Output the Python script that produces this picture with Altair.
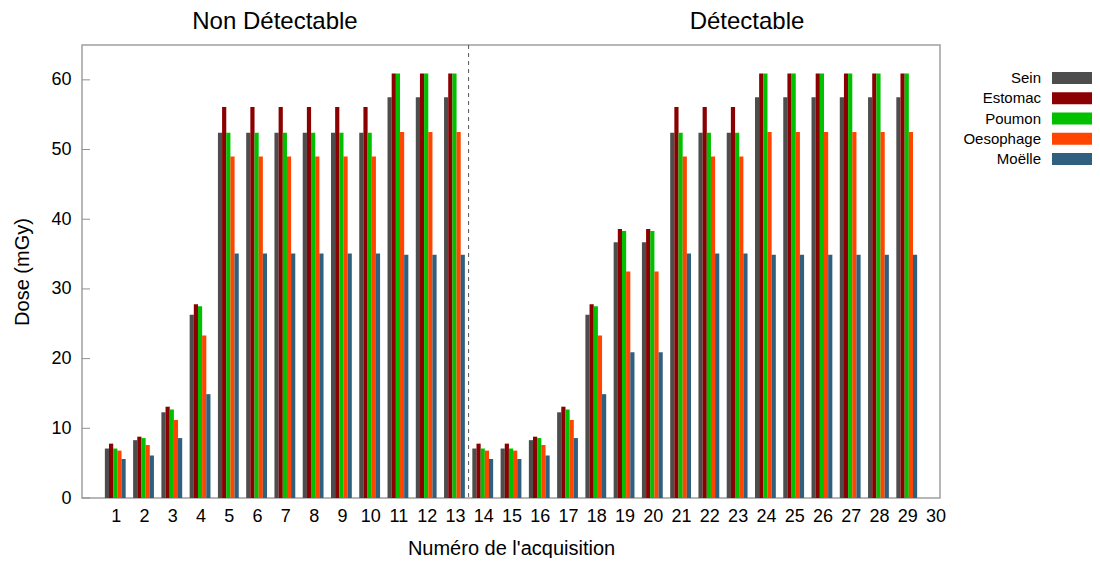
import altair as alt
import pandas as pd

acquisitions = list(range(1, 30))
series_names = ["Sein", "Estomac", "Poumon", "Oesophage", "Moëlle"]
series_colors = ["#4d4d4d", "#8b0000", "#00c000", "#ff4500", "#306080"]

sein = [7.1, 8.3, 12.3, 26.3, 52.4, 52.4, 52.4, 52.4, 52.4, 52.4, 57.5, 57.5, 57.5,
        7.1, 7.1, 8.3, 12.3, 26.3, 36.7, 36.7, 52.4, 52.4, 52.4, 57.5, 57.5, 57.5, 57.5, 57.5, 57.5]
estomac = [7.8, 8.8, 13.1, 27.8, 56.1, 56.1, 56.1, 56.1, 56.1, 56.1, 60.9, 60.9, 60.9,
           7.8, 7.8, 8.8, 13.1, 27.8, 38.6, 38.6, 56.1, 56.1, 56.1, 60.9, 60.9, 60.9, 60.9, 60.9, 60.9]
poumon = [7.1, 8.6, 12.7, 27.5, 52.4, 52.4, 52.4, 52.4, 52.4, 52.4, 60.9, 60.9, 60.9,
          7.1, 7.1, 8.6, 12.7, 27.5, 38.3, 38.3, 52.4, 52.4, 52.4, 60.9, 60.9, 60.9, 60.9, 60.9, 60.9]
oesophage = [6.8, 7.6, 11.2, 23.3, 49.0, 49.0, 49.0, 49.0, 49.0, 49.0, 52.5, 52.5, 52.5,
             6.8, 6.8, 7.6, 11.2, 23.3, 32.5, 32.5, 49.0, 49.0, 49.0, 52.5, 52.5, 52.5, 52.5, 52.5, 52.5]
moelle = [5.6, 6.1, 8.6, 14.9, 35.1, 35.1, 35.1, 35.1, 35.1, 35.1, 34.9, 34.9, 34.9,
          5.6, 5.6, 6.1, 8.6, 14.9, 20.9, 20.9, 35.1, 35.1, 35.1, 34.9, 34.9, 34.9, 34.9, 34.9, 34.9]

x_ticks = list(range(1, 31))
y_ticks = [0, 10, 20, 30, 40, 50, 60]
separator = [13.5]
panel_titles = ["Non Détectable", "Détectable"]

FONT = "Liberation Sans"

rows = []
for k, (name, vals) in enumerate(zip(series_names, [sein, estomac, poumon, oesophage, moelle])):
    for a, v in zip(acquisitions, vals):
        rows.append({"acq": a, "serie": name, "k": k, "dose": v})
df = pd.DataFrame(rows)

xscale = alt.Scale(domain=[0, 30], nice=False, zero=False)
yscale = alt.Scale(domain=[0, 65], nice=False)
color = alt.Color("serie:N", scale=alt.Scale(domain=series_names, range=series_colors), legend=None)

x_axis = alt.Axis(values=x_ticks, title="Numéro de l'acquisition", domain=False,
                  ticks=False, tickSize=0, grid=False, labelFontSize=18, labelColor="black",
                  labelFont=FONT, labelPadding=9, labelOffset=0.5, labelFlush=False,
                  labelOverlap=False, labelBound=False, format="d",
                  titleFontSize=20, titleFont=FONT, titleFontWeight="normal",
                  titleColor="black", titlePadding=13)
y_axis = alt.Axis(values=y_ticks, title="Dose (mGy)", domain=False, ticks=False, tickSize=0,
                  grid=False, labelFontSize=18, labelColor="black", labelFont=FONT,
                  labelPadding=11, titleFontSize=20, titleFont=FONT,
                  titleFontWeight="normal", titleColor="black", titlePadding=18)

bars = alt.Chart(df).transform_calculate(
    xpos="datum.acq + (datum.k - 2) * 0.147"
).mark_bar(width=4.2).encode(
    x=alt.X("xpos:Q", scale=xscale, axis=x_axis),
    y=alt.Y("dose:Q", scale=yscale, axis=y_axis),
    color=color,
)

tick_df = pd.DataFrame({"v": y_ticks})
inner_ticks = alt.Chart(tick_df).mark_rule(color="#909090", strokeWidth=1).encode(
    y=alt.Y("v:Q", scale=yscale, axis=y_axis),
    x=alt.value(0),
    x2=alt.value(8),
)

sep_df = pd.DataFrame({"s": separator})
sep_rule = alt.Chart(sep_df).mark_rule(color="#555555", strokeDash=[4, 4], strokeWidth=1).encode(
    x=alt.X("s:Q", scale=xscale, axis=x_axis)
)

title_left = alt.Chart(pd.DataFrame({"t": [panel_titles[0]]})).mark_text(
    fontSize=24, font=FONT, color="black", baseline="middle", align="center"
).encode(x=alt.value(193), y=alt.value(-23), text="t:N")
title_right = alt.Chart(pd.DataFrame({"t": [panel_titles[1]]})).mark_text(
    fontSize=24, font=FONT, color="black", baseline="middle", align="center"
).encode(x=alt.value(665), y=alt.value(-23), text="t:N")

main = alt.layer(bars, inner_ticks, sep_rule, title_left, title_right)

leg_df = pd.DataFrame({"serie": series_names})
leg_y = alt.Y("serie:N", sort=series_names,
              scale=alt.Scale(type="point", range=[33, 114], padding=0), axis=None)
leg_text = alt.Chart(leg_df).mark_text(align="right", baseline="middle", fontSize=15,
                                       font=FONT, color="black").encode(
    x=alt.value(959), y=leg_y, text="serie:N"
)
leg_sw = alt.Chart(leg_df).mark_tick(orient="horizontal", size=40, thickness=12, opacity=1).encode(
    x=alt.value(990), y=leg_y, color=color
)
legend = alt.layer(leg_text, leg_sw)

chart = alt.layer(main, legend).resolve_scale(y="independent").properties(
    width=858, height=453,
    autosize=alt.AutoSizeParams(type="none"),
    padding={"left": 74, "top": 37, "right": 152, "bottom": 60},
).configure(font=FONT).configure_view(stroke="#a0a0a0", strokeWidth=1.5)

chart.save("out.html", embed_options={"renderer": "svg", "actions": False})
